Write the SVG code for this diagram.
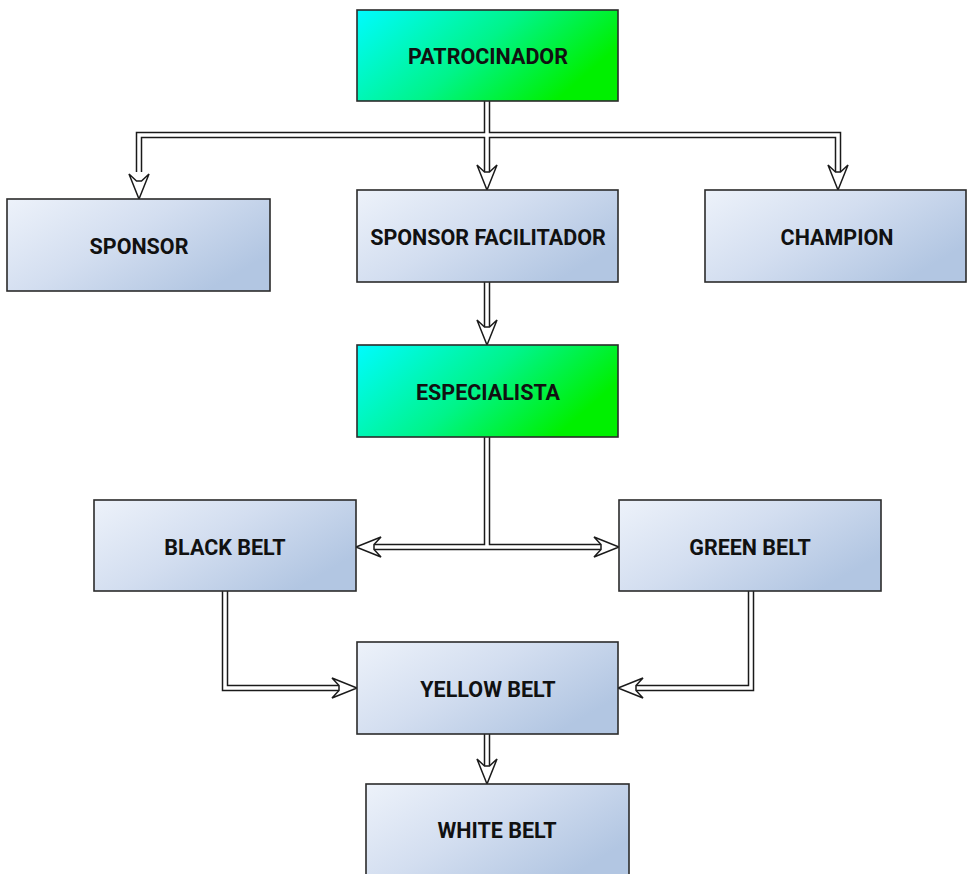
<svg xmlns="http://www.w3.org/2000/svg" width="968" height="874" viewBox="0 0 968 874">
<defs>
<linearGradient id="gGreen" x1="0" y1="0" x2="1" y2="0.4">
<stop offset="0" stop-color="#00fbff"/>
<stop offset="0.55" stop-color="#00f48a"/>
<stop offset="1" stop-color="#00f000"/>
</linearGradient>
<linearGradient id="gBlue" x1="0" y1="0" x2="1" y2="0.6">
<stop offset="0" stop-color="#edf2fa"/>
<stop offset="0.5" stop-color="#d3def0"/>
<stop offset="1" stop-color="#b2c6e2"/>
</linearGradient>
<style>
.box{stroke:#2b2b2b;stroke-width:1.6}
.blue{fill:url(#gBlue)}
.green{fill:url(#gGreen)}
.lbl{font-family:Roboto,"Liberation Sans",Arial,sans-serif;font-weight:bold;font-size:21.5px;fill:#111;text-anchor:middle;dominant-baseline:central}
.outer{fill:none;stroke:#1a1a1a;stroke-width:6.5;stroke-linejoin:miter;stroke-linecap:butt}
.inner{fill:none;stroke:#fff;stroke-width:3.5;stroke-linejoin:miter;stroke-linecap:butt}
.head{fill:#fff;stroke:#1a1a1a;stroke-width:1.5;stroke-linejoin:miter}
</style>
</defs>
<rect width="968" height="874" fill="#fff"/>
<g id="connectors">
<g id="shafts-outer">
<path class="outer" d="M487,101 V172"/>
<path class="outer" d="M139,172 V135 H838 V172"/>
<path class="outer" d="M487,282 V327"/>
<path class="outer" d="M487,437 V547"/>
<path class="outer" d="M374,547 H601"/>
<path class="outer" d="M225,591 V688 H339"/>
<path class="outer" d="M751,591 V688 H636"/>
<path class="outer" d="M487,734 V766"/>
</g>
<g id="shafts-inner">
<path class="inner" d="M487,100 V173"/>
<path class="inner" d="M139,173 V135 H838 V173"/>
<path class="inner" d="M487,281 V328"/>
<path class="inner" d="M487,436 V547"/>
<path class="inner" d="M373,547 H602"/>
<path class="inner" d="M225,590 V688 H340"/>
<path class="inner" d="M751,590 V688 H635"/>
<path class="inner" d="M487,733 V767"/>
</g>
<g id="heads">
<polygon class="head" points="484.5,172 477,165 487,190 497,165 489.5,172"/>
<polygon class="head" points="136.5,181 129,174 139,199 149,174 141.5,181"/>
<polygon class="head" points="835.5,172 828,165 838,190 848,165 840.5,172"/>
<polygon class="head" points="484.5,327 477,320 487,345 497,320 489.5,327"/>
<polygon class="head" points="484.5,766 477,759 487,784 497,759 489.5,766"/>
<polygon class="head" points="374,544.5 381,537 356,547 381,557 374,549.5"/>
<polygon class="head" points="601,544.5 594,537 619,547 594,557 601,549.5"/>
<polygon class="head" points="339,685.5 332,678 357,688 332,698 339,690.5"/>
<polygon class="head" points="636,685.5 643,678 618,688 643,698 636,690.5"/>
</g>
</g>
<g id="patrocinador"><rect class="box green" x="357" y="10" width="261" height="91"/><text class="lbl" x="488" y="56">PATROCINADOR</text></g>
<g id="sponsor"><rect class="box blue" x="7" y="199" width="263" height="92"/><text class="lbl" x="139" y="246">SPONSOR</text></g>
<g id="sponsor-facilitador"><rect class="box blue" x="357" y="190" width="261" height="92"/><text class="lbl" x="488" y="237">SPONSOR FACILITADOR</text></g>
<g id="champion"><rect class="box blue" x="705" y="190" width="261" height="92"/><text class="lbl" x="837" y="237">CHAMPION</text></g>
<g id="especialista"><rect class="box green" x="357" y="345" width="261" height="92"/><text class="lbl" x="488" y="392">ESPECIALISTA</text></g>
<g id="black-belt"><rect class="box blue" x="94" y="500" width="262" height="91"/><text class="lbl" x="225" y="547">BLACK BELT</text></g>
<g id="green-belt"><rect class="box blue" x="619" y="500" width="262" height="91"/><text class="lbl" x="750" y="547">GREEN BELT</text></g>
<g id="yellow-belt"><rect class="box blue" x="357" y="642" width="261" height="92"/><text class="lbl" x="488" y="689">YELLOW BELT</text></g>
<g id="white-belt"><rect class="box blue" x="366" y="784" width="263" height="95"/><text class="lbl" x="497" y="830">WHITE BELT</text></g>
</svg>
